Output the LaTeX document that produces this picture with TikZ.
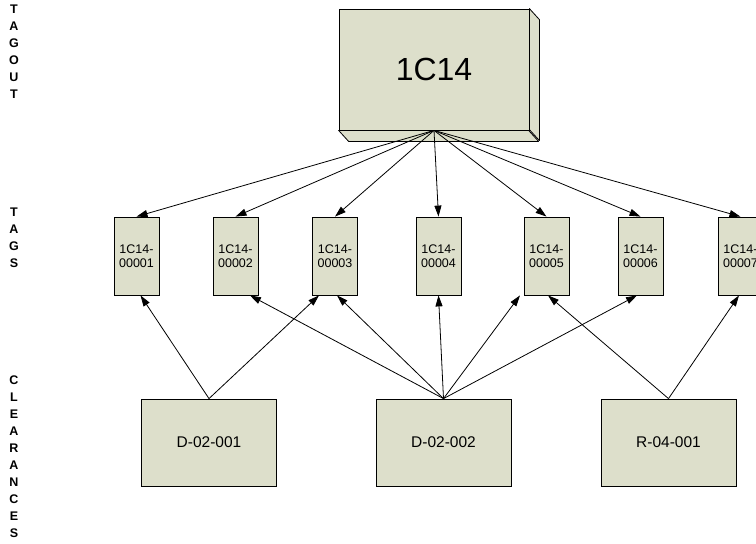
\documentclass[tikz,border=0pt]{standalone}
\usepackage{fontspec}
\setmainfont{Liberation Sans}
\usetikzlibrary{arrows.meta}
\definecolor{boxfill}{RGB}{221,223,203}
\tikzset{
  base/.style={draw=black, fill=boxfill, line width=0.8pt, inner sep=0pt},
  tagbox/.style={base, minimum width=45pt, minimum height=78pt, align=center,
    font=\fontsize{12.5}{14}\selectfont},
  clrbox/.style={base, minimum width=135pt, minimum height=87pt,
    font=\fontsize{15.5}{17}\selectfont},
  link/.style={-{Triangle[length=11pt,width=7pt]}, line width=0.8pt},
  sidelabel/.style={align=center, inner sep=0pt,
    font=\bfseries\fontsize{12.5}{17}\selectfont}
}
\begin{document}
\begin{tikzpicture}[x=1pt,y=-1pt]
\useasboundingbox (0,0) rectangle (756,544);

% row labels on the left
\node[sidelabel, anchor=north] (lblTagout) at (14,5) {T\\A\\G\\O\\U\\T};
\node[sidelabel, anchor=north] (lblTags) at (14,208) {T\\A\\G\\S};
\node[sidelabel, anchor=north] (lblClr) at (14,376) {C\\L\\E\\A\\R\\A\\N\\C\\E\\S};

% tagout: a raised block
\node[base, minimum width=190pt, minimum height=121pt,
  font=\fontsize{32}{34}\selectfont] (tagout) at (434,69.5) {1C14};
\filldraw[fill=boxfill, line width=0.8pt, line join=round]
  (tagout.north east) -- ++(10,11) -- ++(0,121) -- ++(-10,-11) -- cycle;
\filldraw[fill=boxfill, line width=0.8pt, line join=round]
  (tagout.south west) -- ++(10,11) -- ++(190,0) -- ++(-10,-11) -- cycle;
\coordinate (src) at (tagout.south);

% tags
\node[tagbox] (t1) at (136.5,256) {1C14-\\00001};
\node[tagbox] (t2) at (235.5,256) {1C14-\\00002};
\node[tagbox] (t3) at (335,256) {1C14-\\00003};
\node[tagbox] (t4) at (438.5,256) {1C14-\\00004};
\node[tagbox] (t5) at (546.5,256) {1C14-\\00005};
\node[tagbox] (t6) at (640.5,256) {1C14-\\00006};
\node[tagbox] (t7) at (740.5,256) {1C14-\\00007};

% clearances
\node[clrbox] (c1) at (209,442.5) {D-02-001};
\node[clrbox] (c2) at (443.5,442.5) {D-02-002};
\node[clrbox] (c3) at (668.5,442.5) {R-04-001};

% tagout -> tags
\foreach \t in {t1,t2,t3,t4,t5,t6,t7}
  \draw[link] (src) -- (\t.north);

% clearances -> tags
\draw[link] (c1.north) -- ([xshift=4pt]t1.south);
\draw[link] (c1.north) -- ([xshift=-16pt]t3.south);
\draw[link] (c2.north) -- ([xshift=14.5pt]t2.south);
\draw[link] (c2.north) -- ([xshift=2pt]t3.south);
\draw[link] (c2.north) -- (t4.south);
\draw[link] (c2.north) -- ([xshift=-26.5pt]t5.south);
\draw[link] (c2.north) -- ([xshift=-3.5pt]t6.south);
\draw[link] (c3.north) -- ([xshift=1.5pt]t5.south);
\draw[link] (c3.north) -- ([xshift=-1.5pt]t7.south);
\end{tikzpicture}
\end{document}
